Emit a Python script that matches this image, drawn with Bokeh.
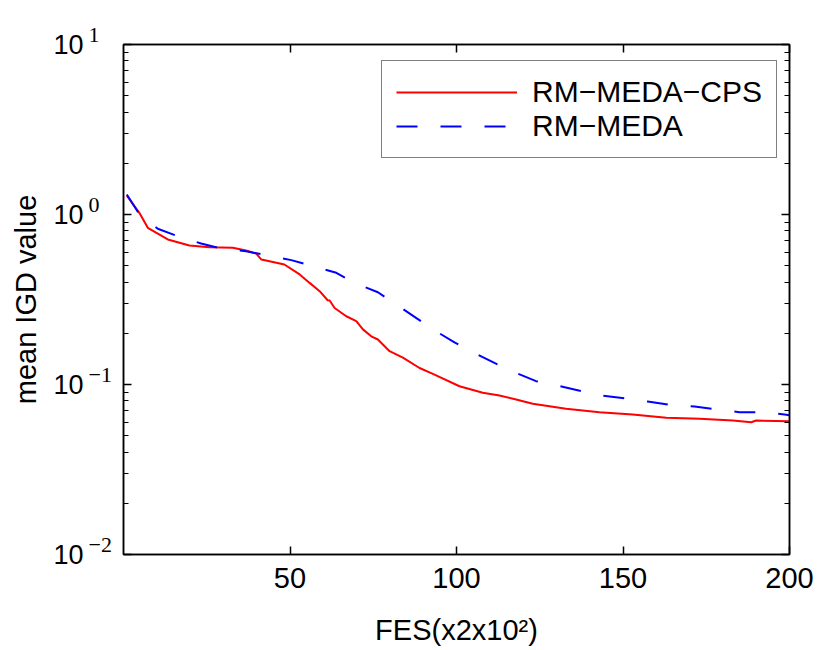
from bokeh.plotting import figure
from bokeh.models import (LinearAxis, LogAxis, FixedTicker, CustomJSTickFormatter,
                          Legend, LegendItem, Range1d)
from bokeh.embed import file_html
from bokeh.resources import INLINE

# ---- data ----
cps_x = [1, 4.8, 7.3, 13.3, 19.8, 25.8, 32.8, 36.8, 39.8, 41.4, 45.9, 48.3, 52.9,
         55.9, 58.9, 61.3, 61.9, 63.4, 66.9, 69.9, 71.9, 74.4, 76.4, 79.9, 83.9,
         88.9, 92.9, 100.9, 107.9, 112.9, 117.9, 122.9, 132.9, 142.9, 152.9, 163,
         173, 183, 188.5, 190, 200]
cps_y = [1.29, 1.02, 0.835, 0.713, 0.657, 0.642, 0.637, 0.614, 0.59, 0.543, 0.52,
         0.508, 0.444, 0.396, 0.354, 0.313, 0.312, 0.282, 0.252, 0.236, 0.211, 0.192,
         0.184, 0.157, 0.144, 0.125, 0.1155, 0.0977, 0.0894, 0.0861, 0.0816, 0.077,
         0.072, 0.0687, 0.0666, 0.0637, 0.0628, 0.0614, 0.060, 0.0614, 0.0607]

meda_x = [1, 4.8, 10.3, 16.8, 23.3, 29.8, 36.8, 43.3, 50.4, 56.8, 63.9, 69.4, 76.4,
          81.4, 87.4, 92.9, 99.4, 104.9, 111.4, 117.4, 123.9, 130.4, 137.4, 143.9,
          151, 157.4, 165, 171.5, 178.5, 185, 192, 198.5, 200]
meda_y = [1.31, 1.0, 0.824, 0.739, 0.675, 0.628, 0.608, 0.574, 0.539, 0.497, 0.454,
          0.396, 0.349, 0.30, 0.25, 0.211, 0.177, 0.155, 0.134, 0.118, 0.1046, 0.0986,
          0.0914, 0.0861, 0.0827, 0.0794, 0.0755, 0.0742, 0.0713, 0.0687, 0.0687,
          0.0666, 0.066]

x_ticks = [50, 100, 150, 200]
y_decades = [-2, -1, 0, 1]
series_names = ["RM\u2212MEDA\u2212CPS", "RM\u2212MEDA"]
x_label = "FES(x2x10\u00b2)"
y_label = "mean IGD value"

FONT = "Liberation Sans"

y_major = [10.0 ** d for d in y_decades]
y_minor = [k * 10.0 ** d for d in y_decades[:-1] for k in range(2, 10)]
x_lo, x_hi = 0, 200

p = figure(y_axis_type="log",
           x_range=Range1d(x_lo, x_hi), y_range=Range1d(y_major[0], y_major[-1]),
           output_backend="svg", toolbar_location=None,
           frame_width=666, frame_height=510,
           min_border_left=123, min_border_right=30, min_border_top=44,
           min_border_bottom=90)
p.grid.visible = False
p.background_fill_color = "white"
p.border_fill_color = "white"
p.outline_line_color = "black"
p.outline_line_width = 1.5

r1 = p.line(cps_x, cps_y, line_color="#ff0000", line_width=2)
r2 = p.line(meda_x, meda_y, line_color="#0000ff", line_width=2, line_dash="21 23")


def style(ax, labels=True):
    ax.axis_line_color = "black"
    ax.axis_line_width = 1.5
    ax.major_tick_line_color = "black"
    ax.major_tick_line_width = 1.5
    ax.minor_tick_line_color = "black"
    ax.minor_tick_line_width = 1.2
    ax.major_tick_in = 8
    ax.major_tick_out = 0
    ax.minor_tick_in = 5
    ax.minor_tick_out = 0
    ax.major_label_text_font = FONT
    ax.major_label_text_font_size = "29px"
    ax.major_label_text_color = "black"
    ax.axis_label_text_font = FONT
    ax.axis_label_text_font_size = "29px"
    ax.axis_label_text_font_style = "normal"
    ax.axis_label_text_color = "black"
    if not labels:
        ax.major_label_text_font_size = "0px"
        ax.major_label_text_color = None
        ax.major_label_standoff = 0


xt = FixedTicker(ticks=x_ticks, minor_ticks=[])
yt = FixedTicker(ticks=y_major, minor_ticks=y_minor)

xa = p.xaxis[0]
xa.ticker = xt
xa.axis_label = x_label
style(xa)
xa.axis_label_text_font_size = "29px"
xa.major_label_standoff = 13
xa.axis_label_standoff = 23

ya = p.yaxis[0]
ya.ticker = yt
ya.formatter = CustomJSTickFormatter(code='return "10";')
ya.axis_label = y_label
style(ya)
ya.major_label_text_font_size = "27px"
ya.major_label_standoff = 40
ya.axis_label_standoff = 8

top = LinearAxis(ticker=xt)
style(top, labels=False)
p.add_layout(top, "above")
right = LogAxis(ticker=yt)
style(right, labels=False)
p.add_layout(right, "right")

# exponents of the y tick labels (superscripts), drawn over the axis area
exp_text = [str(d).replace("-", "\u2212") for d in y_decades]
p.text(x=[x_lo] * len(y_major), y=y_major, text=exp_text,
       x_offset=-35, y_offset=-10, text_align="left", text_baseline="alphabetic",
       text_font=FONT, text_font_size="22px", text_color="black", level="overlay")

legend = Legend(items=[LegendItem(label=series_names[0], renderers=[r1]),
                       LegendItem(label=series_names[1], renderers=[r2])],
                location=(258, 396))
legend.label_text_font = FONT
legend.label_text_font_size = "30px"
legend.label_text_color = "black"
legend.border_line_color = "black"
legend.border_line_width = 1.5
legend.background_fill_alpha = 1
legend.glyph_width = 121
legend.glyph_height = 30
legend.label_standoff = 15
legend.padding = 14
legend.spacing = 0
legend.margin = 0
p.add_layout(legend, "center")

open("out.html", "w").write(file_html(p, INLINE))
